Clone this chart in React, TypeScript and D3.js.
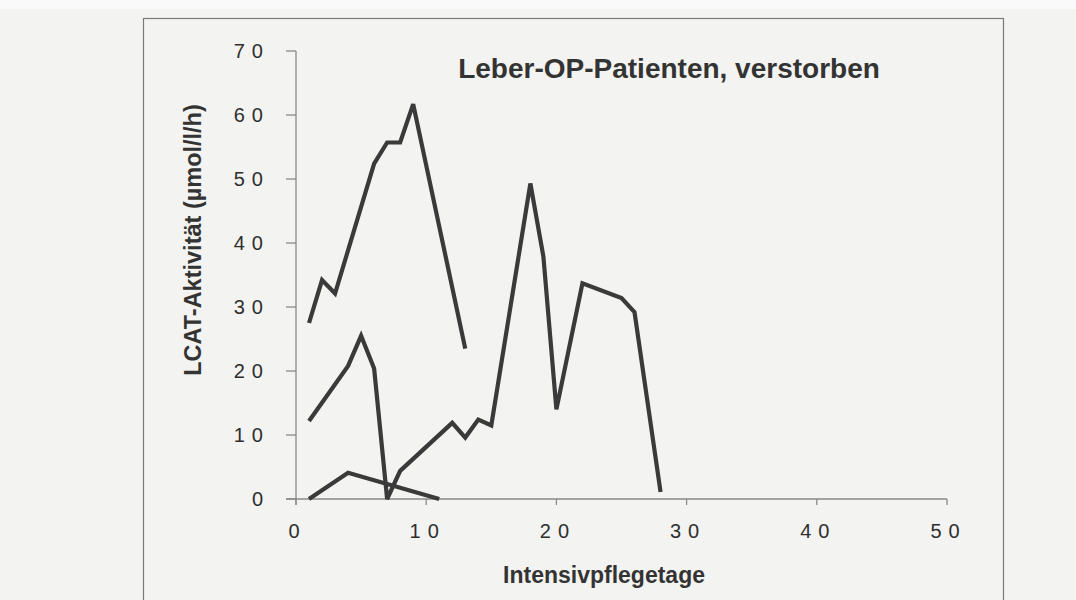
import React from "react";
import * as d3 from "d3";

const title = "Leber-OP-Patienten, verstorben";
const xTitle = "Intensivpflegetage";
const yTitle = "LCAT-Aktivität (µmol/l/h)";

const xTicks = [0, 10, 20, 30, 40, 50];
const yTicks = [0, 10, 20, 30, 40, 50, 60, 70];

const days1 = [1, 2, 3, 6, 7, 8, 9, 13];
const values1 = [27.5, 34.2, 32.1, 52.4, 55.7, 55.7, 61.7, 23.5];

const days2 = [1, 4, 5, 6, 7, 8, 12, 13, 14, 15, 18, 19, 20, 22, 25, 26, 28];
const values2 = [12.2, 20.8, 25.5, 20.4, 0, 4.4, 11.9, 9.6, 12.4, 11.5, 49.3, 37.9, 14.0, 33.7, 31.4, 29.2, 1.1];

const days3 = [1, 4, 11];
const values3 = [0, 4.1, 0];

const seriesList = [
  { days: days1, values: values1 },
  { days: days2, values: values2 },
  { days: days3, values: values3 },
];

export default function App() {
  const W = 1076, H = 600;
  const x = d3.scaleLinear().domain([0, 50]).range([296, 947]);
  const y = d3.scaleLinear().domain([0, 70]).range([499, 51]);
  const line = d3
    .line<[number, number]>()
    .x((d) => x(d[0]))
    .y((d) => y(d[1]));

  const axisColor = "#8a8a8a";
  const inkColor = "#3a3a3a";
  const ls = 7;

  return (
    <svg
      width={W}
      height={H}
      style={{ position: "absolute", left: 0, top: 0 }}
      fontFamily="'Liberation Sans', Arial, sans-serif"
    >
      <rect x={0} y={0} width={W} height={H} fill="#f3f3f1" />
      <rect x={0} y={0} width={W} height={9} fill="#fafafa" />
      <rect x={143.5} y={18.5} width={860} height={600} fill="none" stroke="#7a7a7a" strokeWidth={1.2} />

      {/* y axis */}
      <line x1={x(0)} x2={x(0)} y1={y(70)} y2={y(0) + 6} stroke={axisColor} strokeWidth={1.3} />
      {yTicks.map((t) => (
        <g key={"yt" + t}>
          <line x1={x(0) - 10} x2={x(0)} y1={y(t)} y2={y(t)} stroke={axisColor} strokeWidth={1.3} />
          <text
            x={263 + ls}
            y={y(t) + 7}
            textAnchor="end"
            fontSize={20}
            letterSpacing={ls}
            fill="#2e2e2e"
          >
            {t}
          </text>
        </g>
      ))}

      {/* x axis */}
      <line x1={x(0) - 10} x2={x(50)} y1={y(0)} y2={y(0)} stroke={axisColor} strokeWidth={1.3} />
      {xTicks.map((t) => (
        <g key={"xt" + t}>
          <line x1={x(t)} x2={x(t)} y1={y(0)} y2={y(0) + 6} stroke={axisColor} strokeWidth={1.3} />
          <text
            x={x(t) - 2 + ls / 2}
            y={538}
            textAnchor="middle"
            fontSize={20}
            letterSpacing={ls}
            fill="#2e2e2e"
          >
            {t}
          </text>
        </g>
      ))}

      {/* series */}
      {seriesList.map((s, i) => (
        <path
          key={"s" + i}
          d={line(s.days.map((d, j) => [d, s.values[j]] as [number, number])) || ""}
          fill="none"
          stroke={inkColor}
          strokeWidth={4.2}
          strokeLinejoin="miter"
          strokeMiterlimit={3}
          strokeLinecap="butt"
        />
      ))}

      {/* titles */}
      <text x={669} y={78} textAnchor="middle" fontSize={28} fontWeight="bold" fill="#333">
        {title}
      </text>
      <text x={604} y={583} textAnchor="middle" fontSize={23} fontWeight="bold" fill="#333">
        {xTitle}
      </text>
      <text
        transform={`translate(201,240) rotate(-90)`}
        textAnchor="middle"
        fontSize={23.5}
        fontWeight="bold"
        fill="#333"
      >
        {yTitle}
      </text>
    </svg>
  );
}
